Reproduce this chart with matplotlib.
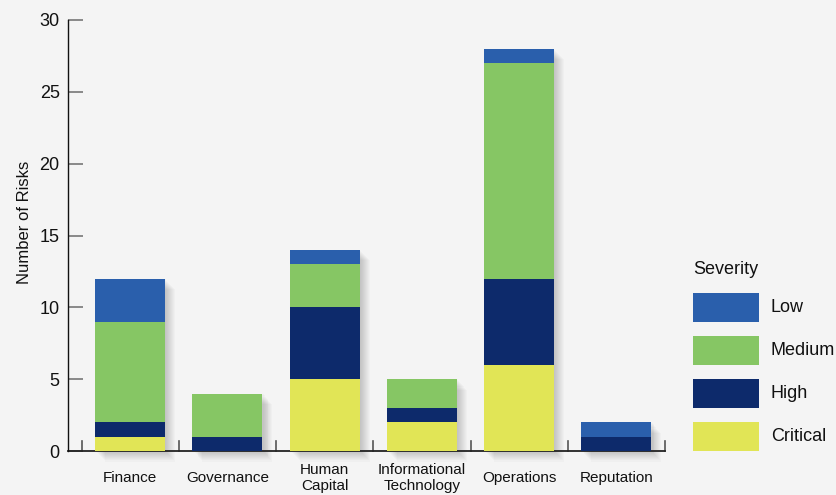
import matplotlib
matplotlib.use("Agg")
import matplotlib.pyplot as plt
import numpy as np
from matplotlib.patches import Rectangle

plt.rcParams['font.family'] = ['Liberation Sans', 'DejaVu Sans']

categories = ["Finance", "Governance", "Human\nCapital", "Informational\nTechnology", "Operations", "Reputation"]
critical = [1, 0, 5, 2, 6, 0]
high = [1, 1, 5, 1, 6, 1]
medium = [7, 3, 3, 2, 15, 0]
low = [3, 0, 1, 0, 1, 1]
series_names = ["Critical", "High", "Medium", "Low"]
legend_order = ["Low", "Medium", "High", "Critical"]
colors = {"Critical": "#e1e556", "High": "#0d2a6b", "Medium": "#86c664", "Low": "#2a5fac"}
bg = "#f4f4f4"

W, H = 836, 495
fig = plt.figure(figsize=(W / 100, H / 100), dpi=100, facecolor=bg)
ax = fig.add_axes([68 / W, 1 - 451 / H, (665 - 68) / W, (451 - 20) / H], facecolor=bg)

x = np.arange(len(categories))
width = 0.72
series = [critical, high, medium, low]
totals = np.sum(series, axis=0)

# soft shadows
for i in range(10):
    dx = 0.012 + i * 0.01
    dy = 0.06 + i * 0.075
    ax.bar(x + dx, totals, width=width, bottom=-dy,
           color="black", alpha=0.02, zorder=1, linewidth=0, clip_on=False)

bottom = np.zeros(len(categories))
for name, vals in zip(series_names, series):
    ax.bar(x, vals, width=width, bottom=bottom, color=colors[name], zorder=3,
           linewidth=0, label=name)
    bottom += np.array(vals)

ax.set_xlim(-0.64, 5.5)
ax.set_ylim(0, 30)
ax.set_yticks(range(0, 31, 5))
ax.tick_params(axis='y', direction='in', length=11, width=1.2, color="#777777",
               labelsize=13, pad=6, labelcolor="#111111")
ax.set_xticks(x)
ax.set_xticklabels(categories, fontsize=11, color="#111111", linespacing=1.15, va="center")
ax.tick_params(axis='x', length=0, pad=19.5)
# boundary ticks
for b in np.arange(-0.5, 5.6, 1.0):
    ax.plot([b, b], [0, 0.7], color="#555555", lw=1.2, zorder=2, clip_on=False)

for s in ["top", "right"]:
    ax.spines[s].set_visible(False)
ax.spines["left"].set_color("#111111")
ax.spines["bottom"].set_color("#222222")
ax.spines["left"].set_linewidth(1.0)
ax.spines["bottom"].set_linewidth(1.3)
ax.spines["left"].set_zorder(4)
ax.set_ylabel("Number of Risks", fontsize=12, color="#111111")
ax.yaxis.set_label_coords(-0.060, 0.531)

# legend drawn manually in figure pixels
fig.text(693 / W, 1 - 269 / H, "Severity", fontsize=13, color="#111111",
         ha="left", va="center")
row_tops = [293, 336, 379, 422]
for name, top in zip(legend_order, row_tops):
    fig.add_artist(Rectangle((693 / W, 1 - (top + 29) / H), 66 / W, 29 / H,
                             transform=fig.transFigure, facecolor=colors[name],
                             edgecolor="none"))
    fig.text(771 / W, 1 - (top + 14.5) / H, name, fontsize=13, color="#111111",
             ha="left", va="center")

fig.savefig("out.png", dpi=100, facecolor=bg)
